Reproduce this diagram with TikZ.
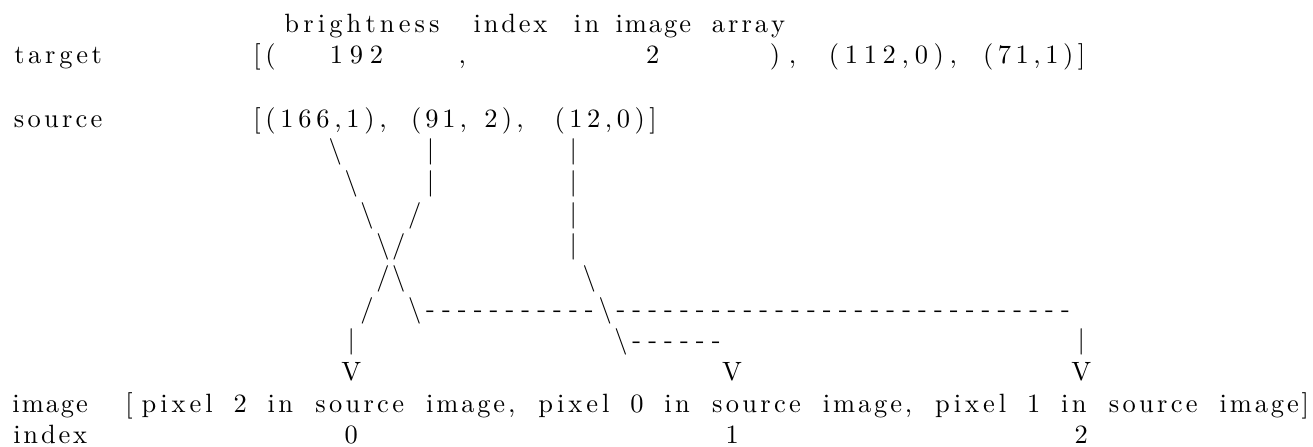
\documentclass[tikz,border=0pt]{standalone}
\makeatletter
\newlength\colw
\setlength\colw{6pt}
\newcommand\spread[2]{\hbox to #1\colw{\hss\@tfor\spr@c:=#2\do{\spr@c\hss}}}
\makeatother
\begin{document}
\begin{tikzpicture}[x=6pt,y=11.97pt,
        tok/.style={inner sep=0pt,anchor=base west},
        chr/.style={inner sep=0pt,anchor=base}]
        \useasboundingbox (-0.63,1.017) rectangle (82.1,-13.098);

        \node[tok] (h-bright) at (17,0) {\spread{10.3}{brightness}};
        \node[tok] (h-index) at (29,0) {\spread{5}{index}};
        \node[tok] (h-in) at (35.3,0) {\spread{2}{in}};
        \node[tok] (h-image) at (38,0) {\spread{5}{image}};
        \node[tok] (h-array) at (44,0) {\spread{5}{array}};

        \node[tok] (t-label) at (0,-1) {\spread{6}{target}};
        \node[tok] (t-open) at (15,-1) {\spread{2}{[(}};
        \node[tok] (t-bright) at (19.7,-1) {\spread{4.2}{192}};
        \node[chr] (t-comma) at (28.5,-1) {,};
        \node[chr] (t-index) at (40.5,-1) {2};
        \node[tok] (t-close) at (47.3,-1) {\spread{2.75}{),}};
        \node[tok] (t-second) at (51.2,-1) {\spread{8.8}{(112,0),}};
        \node[tok] (t-third) at (61,-1) {\spread{7}{(71,1)]}};

        \node[tok] (s-label) at (0,-3) {\spread{6}{source}};
        \node[tok] (s-first) at (15,-3) {\spread{9}{[(166,1),}};
        \node[tok] (s-second) at (25,-3) {\spread{4}{(91,}};
        \node[tok] (s-two) at (29.6,-3) {\spread{3}{2),}};
        \node[tok] (s-third) at (34,-3) {\spread{7}{(12,0)]}};

        \foreach \c/\r in {20/4,21/5,22/6,23/7,24/8,25/9,36/8,37/9,38/10}
            \node[chr] (bs-\c-\r) at (\c+0.5,-\r) {\textbackslash};
        \foreach \c/\r in {25/6,24/7,23/8,22/9}
            \node[chr] (fs-\c-\r) at (\c+0.5,-\r) {/};
        \foreach \c/\r in {26/4,26/5,35/4,35/5,35/6,35/7,21/10,67/10}
            \node[chr] (bar-\c-\r) at (\c+0.5,-\r) {|};
        \foreach \c in {26,...,36}
            \node[chr] (dash-\c-9) at (\c+0.5,-9) {-};
        \foreach \c in {38,...,66}
            \node[chr] (dash-\c-9) at (\c+0.5,-9) {-};
        \foreach \c in {39,...,44}
            \node[chr] (dash-\c-10) at (\c+0.5,-10) {-};
        \foreach \c [count=\i from 0] in {21,45,67}
            \node[chr] (arrow-\i) at (\c+0.5,-11) {V};

        \node[tok] (i-label) at (0,-12) {\spread{5}{image}};
        \node[chr] (i-open) at (7.5,-12) {[};
        \foreach \k/\p in {0/2,1/0,2/1} {
            \node[tok] (px-\k) at (8+25*\k,-12) {\spread{5}{pixel}};
            \node[chr] (pn-\k) at (14.5+25*\k,-12) {\p};
            \node[tok] (in-\k) at (16+25*\k,-12) {\spread{2}{in}};
            \node[tok] (src-\k) at (19+25*\k,-12) {\spread{6}{source}};
        }
        \node[tok] (im-0) at (26,-12) {\spread{6}{image,}};
        \node[tok] (im-1) at (51,-12) {\spread{6}{image,}};
        \node[tok] (im-2) at (76,-12) {\spread{6}{image]}};

        \node[tok] (x-label) at (0,-13) {\spread{5}{index}};
        \foreach \c/\n in {21/0,45/1,67/2}
            \node[chr] (x-\n) at (\c+0.5,-13) {\n};
    \end{tikzpicture}
\end{document}
